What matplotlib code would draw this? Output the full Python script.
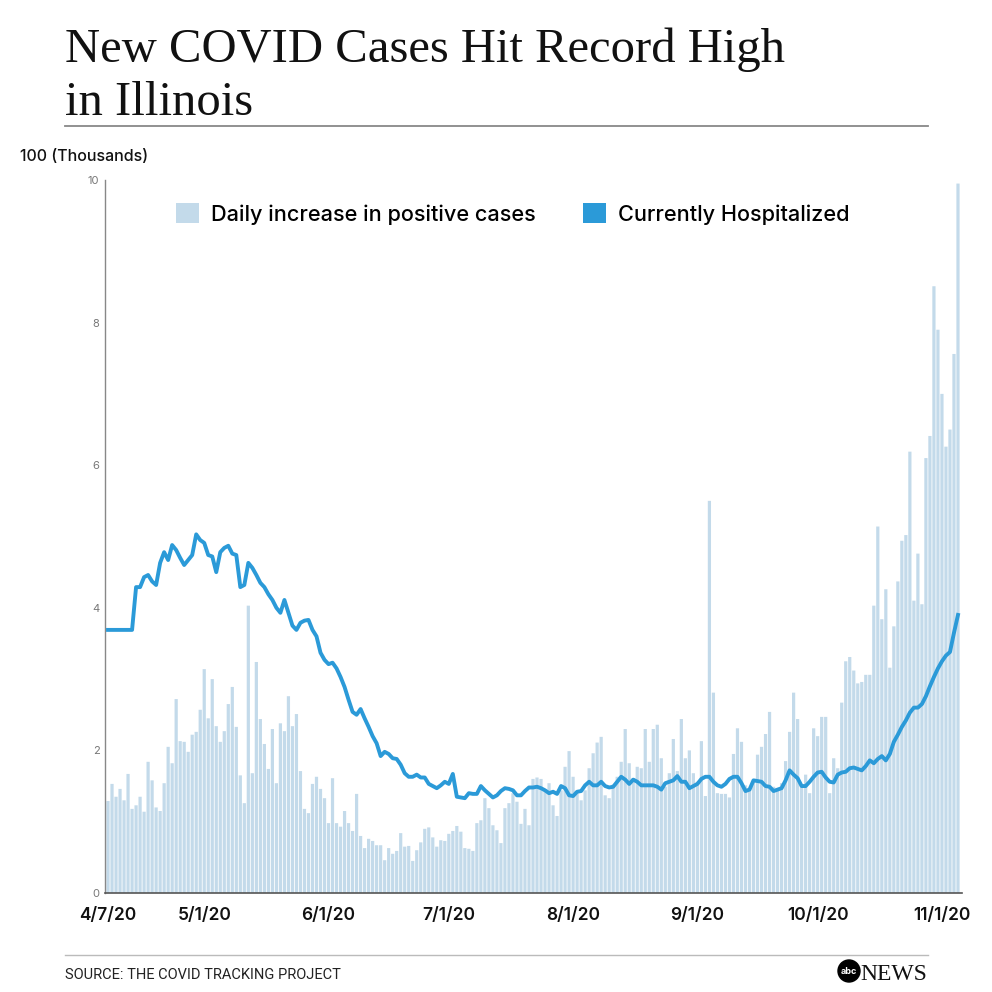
import pandas as pd
import matplotlib
matplotlib.use("Agg")
import matplotlib.pyplot as plt
from matplotlib.patches import Patch, Circle
from matplotlib.lines import Line2D

# daily values, in thousands, starting 4/7/20
start_date = "2020-04-07"

daily_cases = [
    1.29, 1.53, 1.35, 1.46, 1.30, 1.67, 1.18, 1.23, 1.35, 1.14,
    1.84, 1.58, 1.20, 1.15, 1.54, 2.05, 1.82, 2.72, 2.13, 2.12,
    1.98, 2.22, 2.26, 2.57, 3.14, 2.45, 3.00, 2.34, 2.12, 2.27,
    2.65, 2.89, 2.33, 1.65, 1.26, 4.03,
    1.68, 3.24, 2.44, 2.09, 1.74, 2.30, 1.54, 2.38, 2.27, 2.76,
    2.34, 2.51, 1.71, 1.18, 1.12, 1.53, 1.63, 1.46, 1.33, 0.98,
    1.61, 0.98, 0.93, 1.15, 0.98, 0.87, 1.39, 0.80, 0.63, 0.76,
    0.73, 0.67, 0.67, 0.46, 0.63, 0.55,
    0.59, 0.84, 0.65, 0.66, 0.45, 0.60, 0.71, 0.90, 0.92, 0.78,
    0.65, 0.74, 0.73, 0.83, 0.87, 0.94, 0.86, 0.63, 0.62, 0.59,
    0.98, 1.02, 1.33, 1.19, 0.95, 0.88, 0.70, 1.19, 1.26, 1.40,
    1.28, 0.97, 1.18, 0.95, 1.60,
    1.62, 1.60, 1.45, 1.54, 1.23, 1.08, 1.44, 1.77, 1.99, 1.63,
    1.40, 1.30, 1.44, 1.75, 1.96, 2.11, 2.19, 1.37, 1.33, 1.52,
    1.63, 1.84, 2.30, 1.82, 1.61, 1.77, 1.75, 2.30, 1.84, 2.30,
    2.36, 1.89,
    1.49, 1.68, 2.16, 1.71, 2.44, 1.89, 2.00, 1.68, 1.56, 2.13,
    1.36, 5.50, 2.81, 1.40, 1.39, 1.39, 1.34, 1.95, 2.31, 2.12,
    1.51, 1.47, 1.56, 1.94, 2.05, 2.23, 2.54, 1.49, 1.45, 1.54,
    1.85, 2.26, 2.81, 2.44, 1.51,
    1.66, 1.40, 2.31, 2.20, 2.47, 2.47, 1.40, 1.89, 1.75, 2.67,
    3.25, 3.31, 3.12, 2.94, 2.96, 3.06, 3.06, 4.03, 5.14, 3.84,
    4.26, 3.16, 3.74, 4.37, 4.94, 5.02, 6.19, 4.10, 4.76, 4.05,
    6.10, 6.41, 8.51, 7.90, 7.00, 6.26, 6.50, 7.56, 9.95,
]

hospitalized = [
    3.69, 3.69, 3.69, 3.69, 3.69, 3.69, 3.69,
    4.29, 4.29, 4.43, 4.46, 4.37, 4.32, 4.63, 4.78, 4.67, 4.88,
    4.81, 4.70, 4.60, 4.67, 4.74, 5.03, 4.95, 4.91, 4.74, 4.72,
    4.50, 4.78, 4.84, 4.87, 4.76, 4.74, 4.29, 4.32, 4.63,
    4.56, 4.46, 4.35, 4.29, 4.19, 4.11, 4.00, 3.93, 4.11, 3.93,
    3.75, 3.69, 3.79, 3.82, 3.83, 3.69, 3.60, 3.37, 3.27, 3.21,
    3.23, 3.15, 3.03, 2.89, 2.71, 2.54, 2.50, 2.58, 2.45, 2.33,
    2.20, 2.10, 1.92, 1.98, 1.95, 1.89,
    1.88, 1.80, 1.68, 1.63, 1.63, 1.66, 1.62, 1.62, 1.53, 1.50,
    1.47, 1.51, 1.56, 1.53, 1.67, 1.35, 1.34, 1.33, 1.40, 1.39,
    1.39, 1.50, 1.44, 1.39, 1.34, 1.37, 1.43, 1.47, 1.46, 1.44,
    1.37, 1.37, 1.43, 1.48, 1.48,
    1.49, 1.47, 1.44, 1.40, 1.42, 1.39, 1.50, 1.47, 1.37, 1.36,
    1.42, 1.43, 1.51, 1.56, 1.51, 1.51, 1.56, 1.50, 1.48, 1.49,
    1.56, 1.63, 1.59, 1.53, 1.59, 1.56, 1.51, 1.51, 1.51, 1.51,
    1.49, 1.45,
    1.54, 1.56, 1.58, 1.64, 1.56, 1.56, 1.47, 1.50, 1.53, 1.60,
    1.63, 1.63, 1.56, 1.51, 1.49, 1.53, 1.60, 1.63, 1.63, 1.54,
    1.43, 1.45, 1.58, 1.57, 1.56, 1.50, 1.49, 1.43, 1.45, 1.47,
    1.58, 1.72, 1.66, 1.61, 1.50, 1.50, 1.56, 1.63,
    1.69, 1.70, 1.62, 1.56, 1.55, 1.66, 1.69, 1.70, 1.75, 1.76,
    1.74, 1.72, 1.78, 1.86, 1.82, 1.88, 1.92, 1.86, 1.95, 2.12,
    2.22, 2.33, 2.42, 2.53, 2.60, 2.60, 2.65, 2.76, 2.90, 3.03,
    3.15, 3.25, 3.33, 3.38, 3.65, 3.90,
]

tick_dates = ["2020-04-07", "2020-05-01", "2020-06-01", "2020-07-01",
              "2020-08-01", "2020-09-01", "2020-10-01", "2020-11-01"]
tick_labels = ["4/7/20", "5/1/20", "6/1/20", "7/1/20",
               "8/1/20", "9/1/20", "10/1/20", "11/1/20"]
y_ticks = [0, 2, 4, 6, 8, 10]

bar_color = "#c3daea"
line_color = "#2b9ad8"
sans = ["Inter", "DejaVu Sans"]
serif = ["Liberation Serif", "DejaVu Serif"]

dates = pd.date_range(start_date, periods=len(daily_cases), freq="D")
days = (dates - dates[0]).days
tick_pos = [(pd.Timestamp(d) - dates[0]).days for d in tick_dates]

fig = plt.figure(figsize=(9.92, 9.92), dpi=100)
fig.patch.set_facecolor("white")

ax = fig.add_axes([105 / 992, 1 - 893 / 992, 857 / 992, 713 / 992])
ax.bar(days, daily_cases, width=0.8, color=bar_color, linewidth=0,
       snap=False, zorder=1)
ax.plot(days, hospitalized, color=line_color, lw=2.8,
        solid_joinstyle="round", zorder=3)

ax.set_xlim(-0.75, 213.0)
ax.set_ylim(0, 10)
ax.set_xticks(tick_pos)
ax.set_xticklabels(tick_labels, fontsize=12.5, fontweight="semibold",
                   family=sans, color="#111111")
ax.set_yticks(y_ticks)
ax.set_yticklabels([str(v) for v in y_ticks], fontsize=8,
                   family=sans, color="#777777")
ax.tick_params(axis="both", length=0)
ax.tick_params(axis="x", pad=10)
ax.tick_params(axis="y", pad=4)
for side in ["top", "right"]:
    ax.spines[side].set_visible(False)
ax.spines["left"].set_color("#888888")
ax.spines["left"].set_linewidth(1.0)
ax.spines["bottom"].set_color("#555555")
ax.spines["bottom"].set_linewidth(1.2)

handles = [Patch(facecolor=bar_color, edgecolor="none"),
           Patch(facecolor=line_color, edgecolor="none")]
ax.legend(handles, ["Daily increase in positive cases", "Currently Hospitalized"],
          loc="upper left", bbox_to_anchor=(0.06, 0.995), ncol=2,
          frameon=False, handlelength=1.05, handleheight=1.05,
          handletextpad=0.55, columnspacing=2.2,
          prop={"family": sans, "size": 15.6, "weight": "medium"})

# title block
fig.text(65 / 992, 1 - 62 / 992, "New COVID Cases Hit Record High",
         family=serif, fontsize=35, va="baseline", ha="left", color="#111111")
fig.text(65 / 992, 1 - 115 / 992, "in Illinois",
         family=serif, fontsize=35, va="baseline", ha="left", color="#111111")
fig.add_artist(Line2D([65 / 992, 928 / 992], [1 - 126 / 992, 1 - 126 / 992],
                      color="#888888", lw=1.3))

fig.text(20 / 992, 1 - 161 / 992, "100 (Thousands)", family=sans,
         fontsize=11.5, fontweight="medium", va="baseline", ha="left",
         color="#111111")

# footer
fig.add_artist(Line2D([65 / 992, 928 / 992], [1 - 955 / 992, 1 - 955 / 992],
                      color="#bbbbbb", lw=1.0))
fig.text(65 / 992, 1 - 979 / 992, "SOURCE: THE COVID TRACKING PROJECT",
         family=["Roboto", "DejaVu Sans"], fontsize=10.5, fontstretch="condensed",
         va="baseline", ha="left", color="#222222")
fig.add_artist(Circle((849 / 992, 1 - 971 / 992), 11 / 992,
                      transform=fig.transFigure, color="black"))
fig.text(849 / 992, 1 - 971 / 992, "abc", family=sans, fontsize=6.5,
         fontweight="bold", color="white", ha="center", va="center")
fig.text(860 / 992, 1 - 980 / 992, "NEWS", family=serif, fontsize=17,
         va="baseline", ha="left", color="#111111")

fig.savefig("out.png", dpi=100, facecolor="white")
